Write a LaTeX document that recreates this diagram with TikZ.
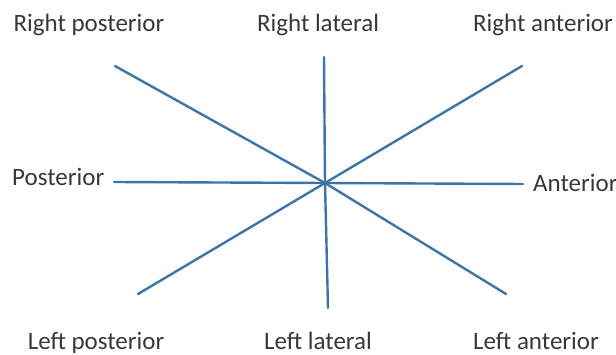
\documentclass[tikz,border=0pt]{standalone}
\usepackage{fontspec}
\setmainfont{Carlito}
\usetikzlibrary{positioning}
\definecolor{axisblue}{HTML}{3D75A6}
\definecolor{labelgray}{HTML}{383838}
\tikzset{
  % riktningar
  axisline/.style={draw=axisblue,line width=2.4pt,line cap=round},
  dirlabel/.style={text=labelgray,inner sep=0pt,anchor=base,
                   font=\fontsize{25}{30}\selectfont},
}
\begin{document}
\begin{tikzpicture}[x=1pt,y=-1pt]
  \useasboundingbox (0,0) rectangle (616,355);
  \coordinate (c) at (325,183);
  \coordinate (rp) at (115,66);
  \coordinate (rl) at (324,57);
  \coordinate (ra) at (522,66);
  \coordinate (po) at (114,182);
  \coordinate (an) at (523,184);
  \coordinate (lp) at (138,294);
  \coordinate (ll) at (328,308);
  \coordinate (la) at (506,294);
  \node[dirlabel] (trp) at (89,32) {Right posterior};
  \node[dirlabel] (trl) at (318,32) {Right lateral};
  \node[dirlabel] (tra) at (543,32) {Right anterior};
  \node[dirlabel,anchor=base west] (tpo) at (12,186) {Posterior};
  \node[dirlabel,anchor=base west] (tan) at (533,192) {Anterior};
  \node[dirlabel] (tlp) at (96,350) {Left posterior};
  \node[dirlabel] (tll) at (318,350) {Left lateral};
  \node[dirlabel] (tla) at (536,350) {Left anterior};
  \draw[axisline] (rp) -- (c) -- (la);
  \draw[axisline] (ra) -- (c) -- (lp);
  \draw[axisline] (rl) -- (c) -- (ll);
  \draw[axisline] (po) -- (c) -- (an);
\end{tikzpicture}
\end{document}
